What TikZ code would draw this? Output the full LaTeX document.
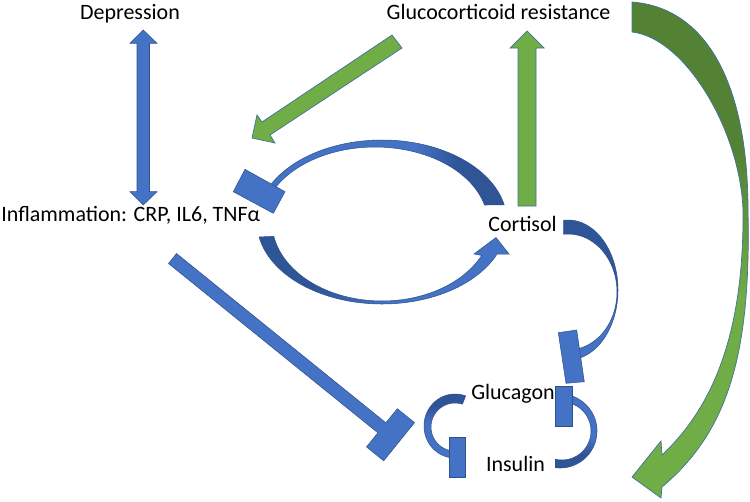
\documentclass[tikz,border=0pt]{standalone}
\usepackage{fontspec}
\setmainfont{Carlito}
\definecolor{blueL}{HTML}{4472C4}
\definecolor{blueD}{HTML}{2F5597}
\definecolor{outl}{HTML}{2F528F}
\definecolor{greenL}{HTML}{70AD47}
\definecolor{greenD}{HTML}{548235}
\definecolor{goutl}{HTML}{41719C}
\pgfdeclarehorizontalshading{ltod}{100bp}{color(0bp)=(blueL); color(56bp)=(blueL); color(65bp)=(blueD); color(100bp)=(blueD)}
\pgfdeclarehorizontalshading{dtol}{100bp}{color(0bp)=(blueD); color(36bp)=(blueD); color(50bp)=(blueL); color(100bp)=(blueL)}
\pgfdeclareverticalshading{topdark}{100bp}{color(0bp)=(blueL); color(40bp)=(blueL); color(52bp)=(blueD); color(100bp)=(blueD)}
\pgfdeclareverticalshading{topdarkB}{100bp}{color(0bp)=(blueL); color(52bp)=(blueL); color(65bp)=(blueD); color(100bp)=(blueD)}
\pgfdeclareverticalshading{botdark}{100bp}{color(0bp)=(blueD); color(35bp)=(blueD); color(45bp)=(blueL); color(100bp)=(blueL)}
\pgfdeclareverticalshading{greensh}{100bp}{color(0bp)=(greenL); color(45bp)=(greenL); color(60bp)=(greenD); color(100bp)=(greenD)}
\begin{document}
\begin{tikzpicture}[x=0.02cm,y=-0.02cm,
  lbl/.style={inner sep=0pt, font=\fontsize{12.5}{15}\selectfont},
  bshape/.style={fill=blueL, draw=outl, line width=0.3pt},
  gshape/.style={fill=greenL, draw=goutl, line width=0.4pt},
  band/.style={draw=outl, line width=0.3pt}]
\useasboundingbox (0,0) rectangle (750,501);

% double arrow Depression <-> Inflammation
\path[bshape] (143.3,30) -- (157,43.3) -- (149.5,43.3) -- (149.5,191.7) -- (157,191.7) -- (143.3,205)
  -- (130,191.7) -- (137,191.7) -- (137,43.3) -- (130,43.3) -- cycle;

% green vertical arrow Cortisol -> GC resistance
\path[gshape] (527,31) -- (544,48) -- (536,48) -- (536,206) -- (518,206) -- (518,48) -- (510,48) -- cycle;

% green diagonal arrow GC resistance -> Inflammation
\path[gshape] (392,35) -- (402,48) -- (270,135) -- (275,143) -- (252,138) -- (257,115) -- (262,122) -- cycle;

% big green curved arrow
\shade[shading=greensh, draw=goutl, line width=0.4pt] (632,2) .. controls (710,8) and (748,90) .. (748,210)
  .. controls (751,350) and (730,430) .. (662,487) -- (661,498) -- (632,477) -- (661,441) -- (662,455)
  .. controls (715,405) and (744,330) .. (743,210) .. controls (740,130) and (685,38) .. (632,32) -- cycle;

% top blue arc (Cortisol -| Inflammation)
\shade[shading=ltod, band] plot[domain=-155:-12, samples=60] ({382+125*cos(\x)},{222+82*sin(\x)})
  -- plot[domain=-14.3:-155, samples=60] ({375+113*cos(\x)},{224+77*sin(\x)}) -- cycle;
\path[bshape] (233.3,191.7) -- (245,169.3) -- (285,191.7) -- (273.3,213.3) -- cycle;

% bottom blue arc (Inflammation -> Cortisol)
\shade[shading=dtol, band] plot[domain=169.5:23, samples=60] ({382+125*cos(\x)},{222+82*sin(\x)})
  -- (509,254) -- (496,237.5) -- (474,254)
  -- plot[domain=25:169.5, samples=60] ({382+110*cos(\x)},{222+79*sin(\x)}) -- cycle;

% Cortisol -| Glucagon
\shade[shading=topdark, band] plot[domain=-95:80, samples=60] ({568+50*cos(\x)},{290+70*sin(\x)})
  -- plot[domain=78:-95, samples=60] ({568+49*cos(\x)},{292+58*sin(\x)}) -- cycle;
\path[bshape] (558.3,332.7) -- (576.7,330) -- (584.3,381.7) -- (566,383.3) -- cycle;

% Glucagon -| Insulin (left loop)
\shade[shading=topdarkB, band] plot[domain=-70:-260, samples=50] ({455+31*cos(\x)},{426+32*sin(\x)})
  -- plot[domain=-260:-72, samples=50] ({455+24*cos(\x)},{427+24*sin(\x)}) -- cycle;
\path[bshape] (449.3,437) rectangle (465,477);

% Insulin -| Glucagon (right loop)
\shade[shading=botdark, band] plot[domain=-72:97, samples=50] ({560+37*cos(\x)},{431+37*sin(\x)})
  -- plot[domain=103:-72, samples=50] ({562+29*cos(\x)},{431+29*sin(\x)}) -- cycle;
\path[bshape] (555.7,386) rectangle (572.3,426);

% Inflammation -| Insulin
\path[bshape] (168.5,263.5) -- (377.9,432.8) -- (366.5,446.9) -- (383.7,460.8) -- (414.5,422.6)
  -- (397.3,408.7) -- (385.9,422.8) -- (176.5,253.5) -- cycle;

% labels
\node[lbl, anchor=base] (dep) at (130,19.5) {Depression};
\node[lbl, anchor=base] (gcr) at (498.5,19.5) {Glucocorticoid resistance};
\node[lbl, anchor=base west] (inf) at (1,221.7) {Inflammation: CRP, IL6, TNFα};
\node[lbl, anchor=base] (cort) at (522.5,231.5) {Cortisol};
\node[lbl, anchor=base] (glu) at (513,399) {Glucagon};
\node[lbl, anchor=base] (ins) at (515.5,471.5) {Insulin};
\end{tikzpicture}
\end{document}
